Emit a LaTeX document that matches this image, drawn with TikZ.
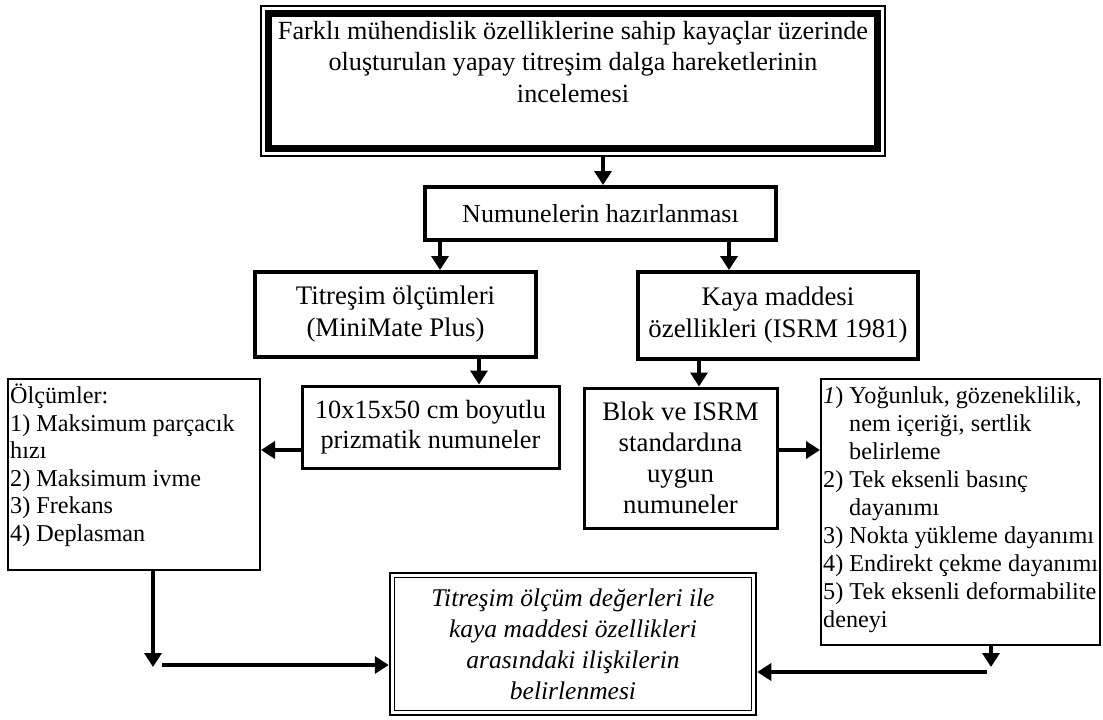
\documentclass[tikz,border=0pt]{standalone}
\usepackage{fontspec}
\setmainfont{Liberation Serif}
\usetikzlibrary{arrows.meta,calc}
\begin{document}
\begin{tikzpicture}[x=1pt,y=-1pt,
  txt/.style={inner sep=0pt, font=\fontsize{24}{28}\selectfont},
  boxframe/.style={draw, inner sep=0pt, line width=#1, align=center},
  arr/.style={line width=4pt, -{Triangle[width=17pt,length=14pt]}}]
\useasboundingbox (0,0) rectangle (1103,720);

% top box (thin outer + thick inner)
\node[draw, line width=1.5pt, inner sep=0pt, minimum width=624pt, minimum height=150pt] (top) at (573,81) {};
\draw[line width=7pt] ($(top.north west)+(8,8)$) rectangle ($(top.south east)+(-8,-8)$);
\node[txt, align=center, anchor=north, font=\fontsize{26.2}{31.5}\selectfont] (toptext) at (573,21)
  {Farklı mühendislik özelliklerine sahip kayaçlar üzerinde\\oluşturulan yapay titreşim dalga hareketlerinin\\incelemesi};

\node[boxframe=4pt, txt, font=\fontsize{26}{30}\selectfont, minimum width=351pt, minimum height=53pt] (numun) at (600.5,213.5) {Numunelerin hazırlanması};
\node[boxframe=4pt, txt, font=\fontsize{26.8}{32}\selectfont, minimum width=281pt, minimum height=85pt] (titr) at (395.5,314.5) {Titreşim ölçümleri\\(MiniMate Plus)};
\node[boxframe=4pt, txt, font=\fontsize{26.8}{32}\selectfont, minimum width=280pt, minimum height=87pt] (kaya) at (778,315.5) {Kaya maddesi\\özellikleri (ISRM 1981)};
\node[boxframe=3pt, txt, font=\fontsize{26.3}{30}\selectfont, minimum width=257pt, minimum height=82pt] (prizm) at (430.5,427) {10x15x50 cm boyutlu\\prizmatik numuneler};
\node[boxframe=3pt, txt, font=\fontsize{26.8}{31}\selectfont, minimum width=193pt, minimum height=140pt] (blok) at (680.5,458) {Blok ve ISRM\\standardına\\uygun\\numuneler};

% Olcumler box
\node[draw, line width=2pt, inner sep=0pt, minimum width=252pt, minimum height=191pt] (olc) at (134,474.5) {};
\node[txt, align=left, anchor=north west, font=\fontsize{24.2}{27.5}\selectfont] (olctext) at (10,384)
  {Ölçümler:\\1) Maksimum parçacık\\hızı\\2) Maksimum ivme\\3) Frekans\\4) Deplasman};

% right box
\node[draw, line width=2pt, inner sep=0pt, minimum width=279pt, minimum height=266pt] (right) at (960.5,512) {};
\node[txt, align=left, anchor=north west, font=\fontsize{24.2}{28}\selectfont] (righttext) at (823,387)
  {\textit{1}) Yoğunluk, gözeneklilik,\\\hspace*{26pt}nem içeriği, sertlik\\\hspace*{26pt}belirleme\\2) Tek eksenli basınç\\\hspace*{26pt}dayanımı\\3) Nokta yükleme dayanımı\\4) Endirekt çekme dayanımı\\5) Tek eksenli deformabilite\\deneyi};

% final box
\node[draw, line width=2.5pt, inner sep=0pt, minimum width=366pt, minimum height=142pt, align=center,
  font=\itshape\fontsize{25.5}{31}\selectfont] (final) at (573,644)
  {Titreşim ölçüm değerleri ile\\kaya maddesi özellikleri\\arasındaki ilişkilerin\\belirlenmesi};
\draw[line width=1.3pt] ($(final.north west)+(5.5,5.5)$) rectangle ($(final.south east)+(-5.5,-5.5)$);

% arrow positions
\coordinate (xa1) at (603,0);
\coordinate (xa2) at (440,0);
\coordinate (xa3) at (729,0);
\coordinate (xa4) at (479,0);
\coordinate (xa5) at (699,0);
\coordinate (m1) at (0,450);
\coordinate (l1) at (153,667);
\coordinate (l2) at (162,665);
\coordinate (r1) at (991,667);
\coordinate (r2) at (987,672);

\draw[arr] (xa1 |- top.south) -- (xa1 |- numun.north);
\draw[arr] (xa2 |- numun.south) -- (xa2 |- titr.north);
\draw[arr] (xa3 |- numun.south) -- (xa3 |- kaya.north);
\draw[arr] (xa4 |- titr.south) -- (xa4 |- prizm.north);
\draw[arr] (xa5 |- kaya.south) -- (xa5 |- blok.north);
\draw[arr] (prizm.west |- m1) -- (olc.east |- m1);
\draw[arr] (blok.east |- m1) -- (right.west |- m1);
\draw[arr] (l1 |- olc.south) -- (l1);
\draw[arr] (l2) -- (final.west |- l2);
\draw[arr] (r1 |- right.south) -- (r1);
\draw[arr] (r2) -- (final.east |- r2);
\end{tikzpicture}
\end{document}
